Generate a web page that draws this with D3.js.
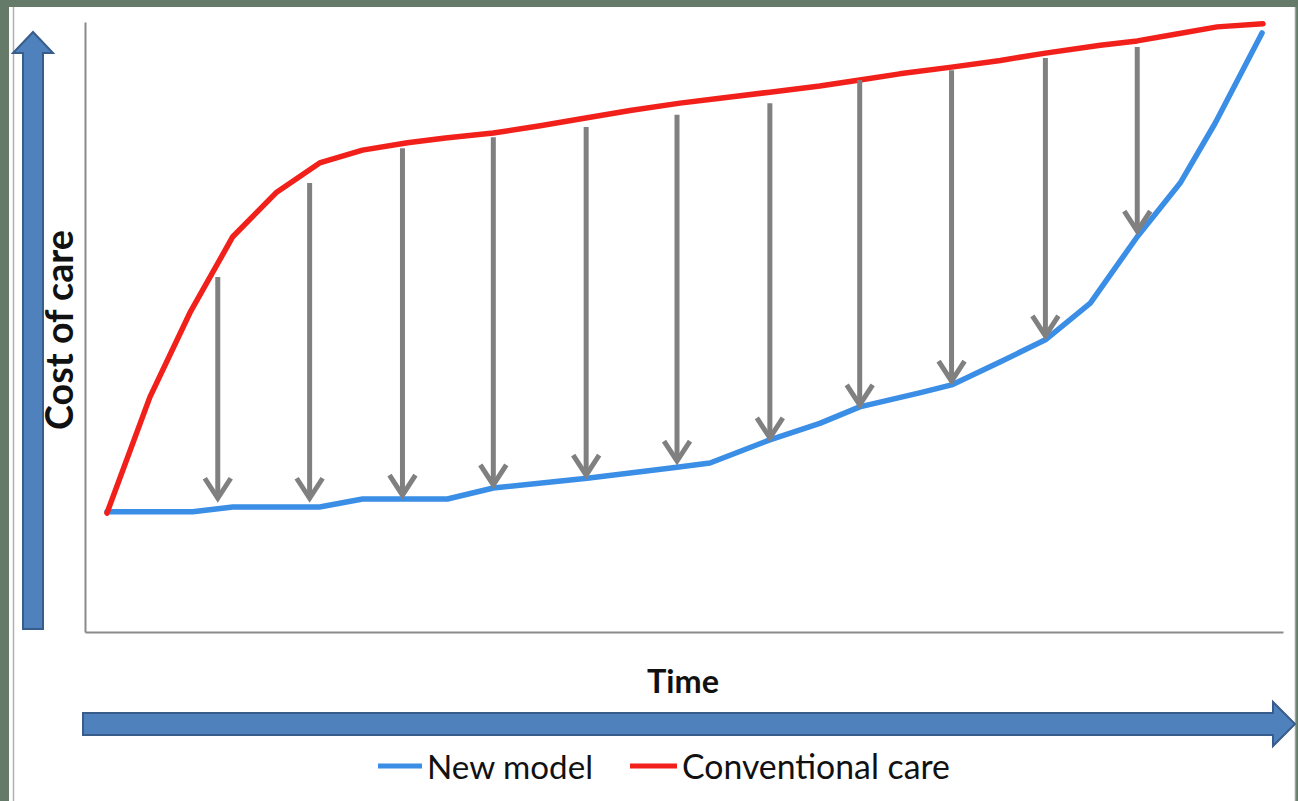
<!DOCTYPE html>
<html>
<head>
<meta charset="utf-8">
<script src="https://cdn.jsdelivr.net/npm/d3@7"></script>
<style>
  html, body { margin: 0; padding: 0; background: #ffffff; }
  svg { display: block; }
</style>
</head>
<body>
<svg id="chart" width="1298" height="801"></svg>
<script>
// ---------------- DATA ----------------
const seriesNames = ["New model", "Conventional care"];
const xTitle = "Time";
const yTitle = "Cost of care";

// New model (blue) – time, cost
const newTime = [2.2, 10.8, 14.8, 23.5, 27.8, 36.3, 40.9, 50.3, 59.3, 62.6, 68.6, 73.6, 77.6, 83.6, 86.8, 91.7, 96.2, 100.7, 105.4, 109.7, 113.2, 117.9];
const newCost = [19.7, 19.7, 20.5, 20.5, 21.8, 21.8, 23.6, 25.2, 27.0, 27.7, 31.5, 34.2, 36.9, 39.2, 40.5, 44.3, 47.9, 53.9, 64.8, 73.6, 83.4, 98.2];

// Conventional care (red) – time, cost
const convTime = [2.2, 6.5, 10.5, 14.8, 19.2, 23.5, 27.8, 32.3, 36.1, 40.9, 45.6, 50.3, 54.6, 59.6, 63.6, 68.6, 73.6, 77.6, 81.6, 86.8, 91.7, 96.2, 101.7, 105.4, 109.2, 113.4, 118.0];
const convCost = [19.5, 38.5, 52.3, 64.8, 72.1, 76.9, 79.0, 80.2, 81.0, 81.8, 83.0, 84.3, 85.5, 86.7, 87.5, 88.5, 89.5, 90.5, 91.5, 92.6, 93.7, 94.9, 96.2, 96.9, 98.0, 99.2, 99.7];

// Savings arrows – time, from (conventional) to (new model)
const arrowTime = [13.3, 22.5, 31.8, 40.9, 50.2, 59.3, 68.6, 77.6, 86.8, 96.2, 105.4];
const arrowFrom = [58.2, 73.6, 79.3, 81.1, 82.8, 84.8, 86.7, 90.5, 92.1, 94.1, 95.9];
const arrowTo   = [21.6, 21.6, 22.1, 23.8, 25.4, 27.7, 31.5, 36.9, 40.8, 48.2, 65.4];

// ---------------- LAYOUT ----------------
const W = 1298, H = 801;
const plot = { left: 85, right: 1283, top: 22, bottom: 632 };
const colors = { blue: "#3a8ee6", red: "#f2201a", gray: "#808080", axis: "#8a8a8a",
                 arrowFill: "#4f81bd", arrowStroke: "#385d8a", frame: "#667a6a" };

const svg = d3.select("#chart");

// frame
svg.append("rect").attr("x", 0).attr("y", 0).attr("width", W).attr("height", H).attr("fill", colors.frame);
svg.append("rect").attr("x", 9).attr("y", 7).attr("width", W - 11).attr("height", H - 7).attr("fill", "#ffffff");
svg.append("line").attr("x1", 13.5).attr("x2", 13.5).attr("y1", 7).attr("y2", H).attr("stroke", "#b0b0b0").attr("stroke-width", 1.5);
svg.append("line").attr("x1", W - 2.5).attr("x2", W - 2.5).attr("y1", 7).attr("y2", H).attr("stroke", "#a0a0a0").attr("stroke-width", 1.5);

// scales
const x = d3.scaleLinear().domain([0, 120]).range([plot.left, plot.right]);
const y = d3.scaleLinear().domain([0, 100]).range([plot.bottom, plot.top]);

// axes (lines only)
const gx = svg.append("g").attr("transform", `translate(0,${plot.bottom})`)
  .call(d3.axisBottom(x).tickValues([]).tickSizeOuter(0));
const gy = svg.append("g").attr("transform", `translate(${plot.left},0)`)
  .call(d3.axisLeft(y).tickValues([]).tickSizeOuter(0));
[gx, gy].forEach(g => g.select(".domain").attr("stroke", colors.axis).attr("stroke-width", 2));

// lines
const line = d3.line().x(d => x(d[0])).y(d => y(d[1])).curve(d3.curveLinear);
const newData = newTime.map((t, i) => [t, newCost[i]]);
const convData = convTime.map((t, i) => [t, convCost[i]]);

svg.append("path").datum(newData).attr("d", line)
  .attr("fill", "none").attr("stroke", colors.blue).attr("stroke-width", 5.5)
  .attr("stroke-linejoin", "round").attr("stroke-linecap", "round");
svg.append("path").datum(convData).attr("d", line)
  .attr("fill", "none").attr("stroke", colors.red).attr("stroke-width", 5.5)
  .attr("stroke-linejoin", "round").attr("stroke-linecap", "round");

// gray savings arrows
const arrows = svg.append("g");
const headW = 13, headH = 22;
arrowTime.forEach((t, i) => {
  const ax = x(t), y0 = y(arrowFrom[i]), y1 = y(arrowTo[i]);
  arrows.append("line").attr("x1", ax).attr("x2", ax).attr("y1", y0).attr("y2", y1 - 3)
    .attr("stroke", colors.gray).attr("stroke-width", 5);
  arrows.append("path")
    .attr("d", `M${ax - headW},${y1 - headH} L${ax},${y1 - 2} L${ax + headW},${y1 - headH}`)
    .attr("fill", "none").attr("stroke", colors.gray).attr("stroke-width", 5)
    .attr("stroke-linejoin", "miter");
});

// big blue arrows (decorative axis arrows)
const yArrow = { cx: 33, shaftHalf: 10, headHalf: 20, tip: 32, headBase: 53, bottom: 629 };
svg.append("path")
  .attr("d", `M${yArrow.cx - yArrow.shaftHalf},${yArrow.bottom} L${yArrow.cx - yArrow.shaftHalf},${yArrow.headBase}
              L${yArrow.cx - yArrow.headHalf},${yArrow.headBase} L${yArrow.cx},${yArrow.tip}
              L${yArrow.cx + yArrow.headHalf},${yArrow.headBase} L${yArrow.cx + yArrow.shaftHalf},${yArrow.headBase}
              L${yArrow.cx + yArrow.shaftHalf},${yArrow.bottom} Z`)
  .attr("fill", colors.arrowFill).attr("stroke", colors.arrowStroke).attr("stroke-width", 2);

const xArrow = { cy: 724, shaftHalf: 11, headHalf: 22, tip: 1295, headBase: 1273, left: 83 };
svg.append("path")
  .attr("d", `M${xArrow.left},${xArrow.cy - xArrow.shaftHalf} L${xArrow.headBase},${xArrow.cy - xArrow.shaftHalf}
              L${xArrow.headBase},${xArrow.cy - xArrow.headHalf} L${xArrow.tip},${xArrow.cy}
              L${xArrow.headBase},${xArrow.cy + xArrow.headHalf} L${xArrow.headBase},${xArrow.cy + xArrow.shaftHalf}
              L${xArrow.left},${xArrow.cy + xArrow.shaftHalf} Z`)
  .attr("fill", colors.arrowFill).attr("stroke", colors.arrowStroke).attr("stroke-width", 2);

// text helpers
const fontFam = "Lato, 'Open Sans', 'DejaVu Sans', sans-serif";
function fit(sel, target) {
  const base = 30;
  sel.attr("font-size", base);
  const w = sel.node().getComputedTextLength();
  sel.attr("font-size", base * target / w);
  return sel;
}

// axis titles
const tX = svg.append("text").text(xTitle)
  .attr("x", 683).attr("y", 693).attr("text-anchor", "middle")
  .attr("font-family", fontFam).attr("font-weight", "bold").attr("fill", "#111");
fit(tX, 72);

const tY = svg.append("text").text(yTitle)
  .attr("transform", "translate(73,330) rotate(-90)").attr("text-anchor", "middle")
  .attr("font-family", fontFam).attr("font-weight", "bold").attr("fill", "#111");
fit(tY, 200);

// legend
const legendItems = [
  { name: seriesNames[0], color: colors.blue, x0: 378, x1: 422, tx: 427, tw: 166 },
  { name: seriesNames[1], color: colors.red,  x0: 630, x1: 677, tx: 682, tw: 268 }
];
const lg = svg.append("g");
legendItems.forEach(it => {
  lg.append("line").attr("x1", it.x0).attr("x2", it.x1).attr("y1", 766).attr("y2", 766)
    .attr("stroke", it.color).attr("stroke-width", 5);
  const t = lg.append("text").text(it.name).attr("x", it.tx).attr("y", 779)
    .attr("font-family", fontFam).attr("fill", "#111");
  fit(t, it.tw);
});
</script>
</body>
</html>
